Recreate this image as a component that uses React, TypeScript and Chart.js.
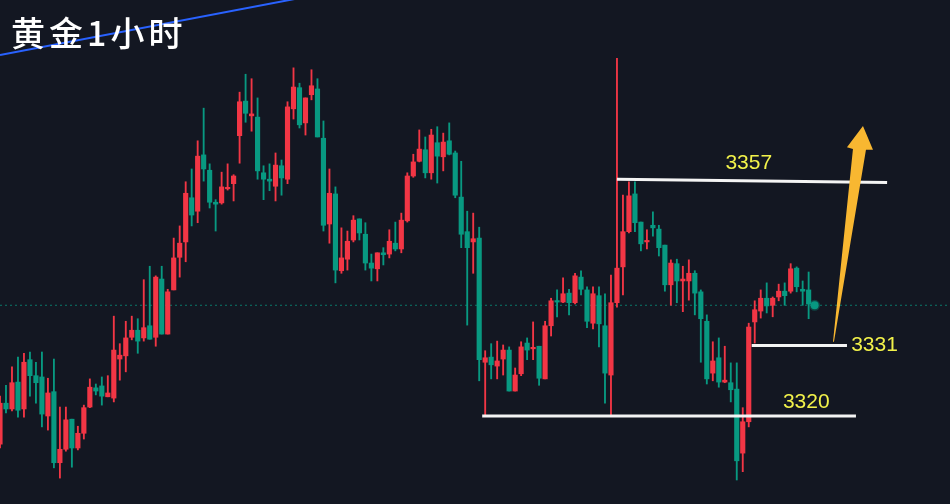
import React, { useEffect, useRef } from "react";
import { Chart, registerables } from "chart.js";

Chart.register(...registerables);

// ---- candle data (1-hour gold), one entry per candle ----
const opens = [
  3315.6, 3322.0, 3321.1, 3325.3, 3321.1, 3328.8, 3326.3, 3326.1, 3320.0, 3323.8,
  3312.7, 3314.8, 3319.5, 3315.0, 3317.3, 3321.4, 3324.4, 3324.7, 3323.0, 3322.8,
  3328.9, 3329.4, 3332.3, 3333.4, 3332.2, 3334.1, 3332.3, 3341.4, 3332.8, 3339.7,
  3344.8, 3347.2, 3354.1, 3352.0, 3360.8, 3358.4, 3353.4, 3353.3, 3355.5, 3356.3,
  3363.8, 3369.2, 3366.9, 3366.7, 3358.0, 3357.0, 3355.9, 3359.1, 3357.0, 3368.0,
  3371.3, 3365.8, 3370.2, 3371.1, 3363.4, 3350.0, 3354.7, 3342.7, 3344.5, 3347.5,
  3350.8, 3348.4, 3343.9, 3343.0, 3345.5, 3345.3, 3347.0, 3346.1, 3350.5, 3357.5,
  3359.8, 3361.6, 3358.0, 3362.7, 3360.5, 3363.0, 3361.1, 3354.2, 3348.8, 3347.2,
  3347.8, 3328.4, 3329.2, 3327.8, 3328.9, 3330.3, 3323.9, 3326.6, 3331.4, 3330.5,
  3330.9, 3325.8, 3334.1, 3338.0, 3337.8, 3339.2, 3337.7, 3341.7, 3339.7, 3334.5,
  3338.8, 3334.1, 3326.4, 3337.7, 3343.3, 3348.8, 3354.7, 3350.3, 3347.2, 3349.8,
  3349.2, 3346.7, 3340.5, 3343.8, 3341.1, 3341.1, 3342.3, 3339.4, 3334.8, 3326.7,
  3329.1, 3325.3, 3325.2, 3324.2, 3314.2, 3319.1, 3334.7, 3336.4, 3338.4, 3337.3,
  3338.6, 3339.5, 3339.5, 3343.1, 3339.8, 3339.7,
];
const closes = [
  3322.0, 3321.1, 3325.2, 3320.9, 3328.4, 3326.3, 3325.2, 3320.3, 3323.6, 3312.7,
  3314.8, 3319.4, 3315.0, 3317.3, 3321.3, 3324.5, 3323.9, 3323.1, 3323.6, 3330.3,
  3329.5, 3332.2, 3333.4, 3331.7, 3333.8, 3332.0, 3341.7, 3332.8, 3339.4, 3344.7,
  3347.0, 3354.8, 3351.4, 3360.6, 3358.6, 3353.4, 3353.1, 3355.8, 3355.6, 3357.5,
  3369.1, 3367.3, 3367.2, 3358.3, 3357.0, 3356.7, 3359.2, 3357.2, 3368.3, 3371.4,
  3365.5, 3369.7, 3371.6, 3363.6, 3349.8, 3354.8, 3342.8, 3344.7, 3347.3, 3350.6,
  3348.6, 3343.9, 3343.1, 3345.5, 3345.2, 3347.3, 3346.1, 3350.6, 3357.5, 3359.7,
  3361.7, 3358.0, 3363.9, 3360.6, 3362.8, 3360.9, 3354.5, 3348.4, 3346.3, 3347.7,
  3328.8, 3329.1, 3328.0, 3328.6, 3330.3, 3323.9, 3326.4, 3330.8, 3330.3, 3330.6,
  3325.9, 3334.1, 3338.0, 3337.8, 3339.1, 3337.7, 3341.9, 3339.8, 3334.8, 3339.1,
  3334.4, 3326.7, 3337.7, 3343.1, 3348.8, 3354.4, 3350.2, 3346.9, 3347.3, 3349.4,
  3346.3, 3340.5, 3343.9, 3341.1, 3341.4, 3342.3, 3339.2, 3335.2, 3325.8, 3328.6,
  3325.3, 3325.6, 3324.1, 3313.0, 3319.1, 3333.9, 3336.6, 3338.4, 3337.2, 3338.4,
  3339.5, 3338.8, 3343.0, 3340.2, 3339.5, 3337.5,
];
const highs = [
  3323.1, 3324.8, 3327.7, 3329.2, 3329.8, 3330.0, 3328.4, 3330.0, 3325.9, 3328.9,
  3321.4, 3321.4, 3319.5, 3318.4, 3321.7, 3325.8, 3325.0, 3326.1, 3326.3, 3335.6,
  3331.3, 3334.8, 3335.6, 3335.2, 3341.3, 3343.4, 3341.9, 3343.4, 3339.8, 3347.8,
  3349.7, 3356.6, 3358.6, 3363.0, 3368.1, 3359.4, 3353.8, 3358.1, 3359.4, 3357.7,
  3370.6, 3373.4, 3372.7, 3369.7, 3359.1, 3359.4, 3361.1, 3360.0, 3369.1, 3374.4,
  3372.0, 3369.7, 3374.1, 3372.7, 3366.1, 3358.6, 3355.8, 3349.4, 3348.9, 3351.3,
  3350.8, 3350.2, 3345.3, 3345.5, 3346.3, 3349.1, 3350.3, 3351.7, 3358.0, 3360.9,
  3364.7, 3363.6, 3364.8, 3365.2, 3364.2, 3365.8, 3361.4, 3359.8, 3352.0, 3351.7,
  3349.5, 3330.2, 3331.3, 3331.7, 3331.1, 3330.8, 3327.5, 3331.6, 3332.2, 3334.7,
  3330.9, 3334.8, 3338.4, 3339.7, 3341.6, 3339.8, 3342.3, 3342.7, 3340.2, 3340.2,
  3340.2, 3339.1, 3342.0, 3375.9, 3354.5, 3356.6, 3356.6, 3350.3, 3349.1, 3351.9,
  3349.8, 3346.7, 3344.4, 3344.5, 3343.4, 3344.4, 3342.7, 3339.7, 3335.8, 3331.6,
  3332.2, 3330.9, 3328.3, 3328.3, 3321.3, 3334.5, 3338.0, 3339.7, 3340.8, 3338.6,
  3340.6, 3340.8, 3343.8, 3343.3, 3341.1, 3342.5,
];
const lows = [
  3315.0, 3320.5, 3320.8, 3319.8, 3319.8, 3323.1, 3322.0, 3318.3, 3317.8, 3311.9,
  3310.3, 3314.5, 3312.0, 3314.7, 3316.4, 3321.3, 3323.3, 3321.7, 3323.0, 3322.2,
  3325.6, 3326.9, 3331.9, 3329.8, 3331.7, 3332.0, 3330.9, 3332.8, 3332.8, 3339.7,
  3341.7, 3344.1, 3349.7, 3350.2, 3356.7, 3352.5, 3348.9, 3353.1, 3355.3, 3353.6,
  3359.5, 3365.9, 3364.5, 3357.0, 3353.8, 3355.2, 3353.6, 3354.5, 3356.3, 3366.4,
  3365.0, 3363.9, 3369.4, 3363.6, 3348.9, 3347.0, 3340.8, 3342.3, 3342.8, 3347.2,
  3347.5, 3342.8, 3341.1, 3341.1, 3343.6, 3344.7, 3345.8, 3345.5, 3350.3, 3357.3,
  3359.7, 3357.2, 3357.0, 3356.4, 3358.3, 3360.8, 3354.1, 3346.3, 3334.2, 3342.3,
  3325.5, 3320.2, 3325.8, 3325.8, 3326.4, 3323.9, 3323.9, 3326.3, 3328.8, 3328.8,
  3324.8, 3325.8, 3332.5, 3335.5, 3337.7, 3335.8, 3337.5, 3338.9, 3333.8, 3333.6,
  3330.8, 3322.0, 3320.2, 3337.0, 3338.9, 3348.6, 3348.8, 3345.8, 3346.1, 3348.1,
  3345.0, 3339.5, 3337.3, 3337.7, 3336.3, 3338.1, 3335.8, 3328.4, 3325.0, 3325.5,
  3324.5, 3325.2, 3322.2, 3310.0, 3311.3, 3318.3, 3331.4, 3335.3, 3336.1, 3335.5,
  3338.0, 3337.3, 3339.2, 3339.4, 3337.3, 3335.2,
];

// ---- annotations ----
const lastPrice = 3337.3;
const levelText = ["3357", "3331", "3320"];
const levelStartValue = [3357, 3331, 3320];
const levelEndValue = [3356.5, 3331, 3320];
const levelStartIndex = [103, 125.5, 80.5];
const levelEndIndex = [148.1, 141.4, 142.9];
const labelIndex = [125.0, 142.1, 134.6];
const labelValue = [3359.5, 3331.1, 3322.2];
const labelAlign: CanvasTextAlign[] = ["center", "left", "center"];
const trendIndex = [0, 50];
const trendValue = [3376.4, 3385.3];
const arrowIndex = [139.07, 142.4, 141.4, 144.07, 145.74, 144.57, 139.23];
const arrowValue = [3331.6, 3361.7, 3362.0, 3365.3, 3361.6, 3361.6, 3331.6];
const titleText = "黄金1小时";

const UP = "#f23645";
const DOWN = "#089981";
const BG = "#131722";
const YELLOW = "#f2f24a";

export default function App() {
  const ref = useRef<HTMLCanvasElement>(null);

  useEffect(() => {
    if (!ref.current) return;
    const idx = opens.map((_, i) => i);
    const colorOf = (i: number) => (closes[i] >= opens[i] ? UP : DOWN);

    const overlay = {
      id: "overlay",
      beforeDraw(chart: any) {
        const c = chart.ctx;
        c.save();
        c.fillStyle = BG;
        c.fillRect(0, 0, chart.width, chart.height);
        c.restore();
      },
      afterDatasetsDraw(chart: any) {
        const c = chart.ctx;
        const xs = chart.scales.x;
        const ys = chart.scales.y;
        // arrow
        c.save();
        c.beginPath();
        arrowIndex.forEach((v, i) => {
          const px = xs.getPixelForValue(v);
          const py = ys.getPixelForValue(arrowValue[i]);
          if (i === 0) c.moveTo(px, py);
          else c.lineTo(px, py);
        });
        c.closePath();
        c.fillStyle = "#f8b731";
        c.fill();
        // labels
        c.fillStyle = YELLOW;
        c.font = "21px 'Liberation Sans', Arial, sans-serif";
        c.textBaseline = "middle";
        levelText.forEach((t, i) => {
          c.textAlign = labelAlign[i];
          c.fillText(t, xs.getPixelForValue(labelIndex[i]), ys.getPixelForValue(labelValue[i]));
        });
        // title
        c.fillStyle = "#ffffff";
        c.font = "500 34px 'Noto Sans CJK SC', sans-serif";
        c.textAlign = "left";
        c.textBaseline = "middle";
        (c as any).letterSpacing = "4px";
        c.fillText(titleText, 11, 33);
        c.restore();
      },
    };

    const chart = new Chart(ref.current, {
      type: "bar",
      data: {
        datasets: [
          {
            type: "line",
            data: [
              { x: 0, y: lastPrice },
              { x: 158.6, y: lastPrice },
            ],
            borderColor: "rgba(8,153,129,0.75)",
            borderWidth: 1,
            borderDash: [2, 3],
            pointRadius: 0,
            order: 20,
          } as any,
          {
            type: "bar",
            data: idx.map((i) => ({ x: i, y: [lows[i], highs[i]] })),
            backgroundColor: idx.map(colorOf),
            barThickness: 1.2,
            grouped: false,
            borderWidth: 0,
            order: 15,
          } as any,
          {
            type: "bar",
            data: idx.map((i) => ({ x: i, y: [opens[i], closes[i]] })),
            backgroundColor: idx.map(colorOf),
            barThickness: 4.5,
            minBarLength: 1.5,
            grouped: false,
            borderWidth: 0,
            order: 14,
          } as any,
          {
            type: "line",
            data: [{ x: opens.length, y: lastPrice }],
            showLine: false,
            pointRadius: 4,
            pointBackgroundColor: DOWN,
            pointBorderColor: "rgba(8,153,129,0.35)",
            pointBorderWidth: 3,
            order: 12,
          } as any,
          ...levelText.map(
            (_, i) =>
              ({
                type: "line",
                data: [
                  { x: levelStartIndex[i], y: levelStartValue[i] },
                  { x: levelEndIndex[i], y: levelEndValue[i] },
                ],
                borderColor: "#f4f4f4",
                borderWidth: 3,
                pointRadius: 0,
                order: 5,
              }) as any
          ),
          {
            type: "line",
            data: trendIndex.map((x, i) => ({ x, y: trendValue[i] })),
            borderColor: "#2962ff",
            borderWidth: 2,
            pointRadius: 0,
            order: 4,
          } as any,
        ],
      },
      options: {
        animation: false,
        responsive: false,
        events: [],
        layout: { padding: 0, autoPadding: false },
        plugins: { legend: { display: false }, tooltip: { enabled: false }, title: { display: false } },
        scales: {
          x: { type: "linear", min: 0, max: 158.6, offset: false, display: false },
          y: { type: "linear", min: 3306.25, max: 3385, display: false },
        },
      } as any,
      plugins: [overlay],
    });
    return () => chart.destroy();
  }, []);

  return (
    <div style={{ position: "fixed", left: 0, top: 0, width: 950, height: 504, background: BG }}>
      <canvas ref={ref} width={950} height={504} style={{ display: "block" }} />
    </div>
  );
}
